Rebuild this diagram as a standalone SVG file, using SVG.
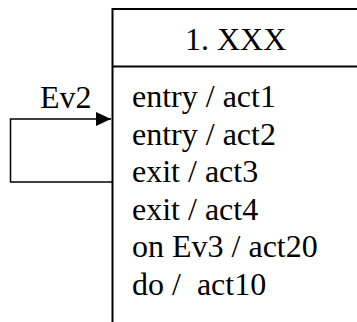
<svg xmlns="http://www.w3.org/2000/svg" width="357" height="322" viewBox="0 0 357 322">
<style>
.t{font-family:"Liberation Serif","Times New Roman",serif;font-size:32px;fill:#000;white-space:pre}
.b{fill:none;stroke:#000;stroke-width:2}
.c{fill:none;stroke:#000;stroke-width:1.5}
</style>
<defs>
<marker id="ah" markerUnits="userSpaceOnUse" markerWidth="16" markerHeight="16" refX="15" refY="7" orient="auto">
<path d="M0,0 L15,7 L0,14 Z" fill="#000"/>
</marker>
</defs>
<rect width="357" height="322" fill="#fff"/>
<g id="state1">
<path class="b" d="M357,9 H112.5 V322"/>
<path class="b" d="M112.5,66.5 H357"/>
<text class="t" x="185" y="50">1. XXX</text>
<text class="t" x="132" y="107">entry / act1</text>
<text class="t" x="132" y="144.5">entry / act2</text>
<text class="t" x="132" y="182">exit / act3</text>
<text class="t" x="132" y="220">exit / act4</text>
<text class="t" x="132" y="257">on Ev3 / act20</text>
<text class="t" x="132" y="295" xml:space="preserve">do /  act10</text>
</g>
<g id="connectors">
<path class="c" d="M112,182 H10.5 V119 H111" marker-end="url(#ah)"/>
<text class="t" x="40" y="108">Ev2</text>
</g>
</svg>
